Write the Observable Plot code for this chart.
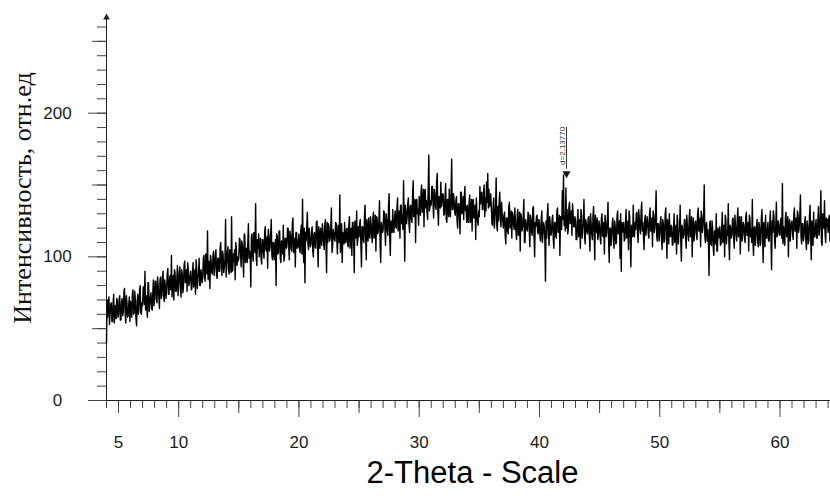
<!DOCTYPE html>
<html>
<head>
<meta charset="utf-8">
<script src="https://cdn.jsdelivr.net/npm/d3@7"></script>
<script src="https://cdn.jsdelivr.net/npm/@observablehq/plot@0.6"></script>
<style>
  html, body { margin: 0; padding: 0; background: #fff; }
  #chart svg { display: block; }
</style>
</head>
<body>
<div id="chart"></div>
<script>
// ---- Data (step 0.05° 2θ, starting at 4.00°) ----
const twoThetaStart = 4.0;
const twoThetaStep = 0.05;

const intensity04to14 = [
  40,70,58,69,72,53,61,67,68,55,55,68,74,54,62,66,57,71,70,58,
  60,70,73,56,56,68,71,59,62,76,78,61,54,73,68,58,59,67,72,55,
  69,62,58,74,77,60,61,76,70,57,52,69,74,60,64,77,80,61,60,68,
  66,79,79,67,90,63,73,65,58,82,82,62,67,72,75,64,63,75,84,66,
  71,83,83,70,68,86,79,72,64,84,86,71,73,85,90,73,69,84,78,71,
  78,88,92,74,74,86,87,77,101,72,80,87,70,91,89,76,76,85,94,73,
  81,89,93,77,72,91,88,75,79,94,97,82,84,91,76,96,91,80,83,87,
  90,77,78,89,96,79,82,91,74,98,92,78,85,88,99,80,80,91,88,82,
  86,99,101,86,83,102,95,88,118,84,89,97,78,101,97,89,88,100,104,87,
  92,101,105,87,85,99,99,90,90,107,110,92,87,104,101,89,93,98,126,86
];
const intensity14to24 = [
  95,103,107,91,88,105,103,89,128,90,91,102,97,105,84,110,106,94,100,97,
  99,113,112,101,93,111,108,99,86,116,115,96,101,106,96,110,123,99,104,100,
  79,114,116,101,97,117,111,103,137,99,94,112,106,116,100,110,113,99,95,112,
  112,103,99,117,121,105,104,114,92,119,115,104,107,116,126,101,98,110,110,98,
  104,112,80,116,114,102,103,118,118,99,96,111,109,102,122,97,100,113,113,106,
  107,120,120,108,98,118,115,106,104,123,127,103,109,113,93,117,117,106,112,107,
  116,105,103,118,122,102,140,108,96,120,82,117,111,121,131,109,105,120,114,107,
  109,118,121,104,100,116,117,107,106,124,125,109,93,121,114,106,120,111,108,123,
  118,110,105,122,126,108,89,124,110,123,121,111,113,120,134,103,107,119,117,112,
  111,124,123,112,102,122,119,110,143,103,108,123,96,117,116,109,124,110,110,119
];
const intensity24to34 = [
  120,109,107,122,128,106,113,120,101,124,124,111,89,125,118,113,132,108,112,121,
  114,123,126,109,93,121,121,112,110,129,136,114,98,126,119,111,127,116,113,128,
  123,115,110,127,131,113,116,129,104,128,127,116,118,125,139,108,96,124,121,117,
  119,132,131,120,108,130,126,118,115,135,144,115,101,125,124,117,133,118,117,127,
  132,121,120,134,141,118,125,132,113,136,136,123,129,119,153,125,97,136,131,123,
  128,137,141,123,117,135,136,126,124,143,153,128,131,140,110,139,140,130,133,122,
  142,133,129,145,150,131,134,147,121,146,147,134,139,131,126,148,171,132,135,139,
  136,149,149,137,127,147,144,135,133,152,158,132,122,142,141,134,152,135,138,144,
  143,129,130,142,151,126,124,140,139,128,147,131,128,145,168,133,133,144,140,131,
  129,139,142,125,120,137,137,128,116,145,145,130,131,142,126,141,149,132,135,124
];
const intensity34to44 = [
  136,126,124,138,143,124,129,140,118,139,140,127,127,136,112,141,131,125,122,132,
  128,149,137,143,145,133,133,145,150,128,141,132,152,138,158,134,147,135,139,144,
  134,123,122,136,141,120,127,134,155,122,118,135,125,139,145,127,121,138,130,125,
  120,129,131,115,109,127,127,118,116,135,138,120,122,132,113,131,129,122,119,134,
  125,117,112,129,133,115,118,131,104,130,128,118,121,127,140,110,110,126,123,119,
  118,131,130,119,107,129,126,117,115,134,135,114,100,124,121,128,129,117,116,126,
  124,113,111,126,132,110,117,124,121,112,83,125,113,129,137,117,108,128,122,115,
  117,126,129,112,106,124,124,115,113,132,134,117,119,129,101,128,127,119,146,126,
  157,122,128,118,148,120,133,116,119,135,138,123,124,132,115,137,130,121,121,128,
  125,112,112,124,133,114,118,126,106,133,129,113,120,123,140,115,109,126,123,117
];
const intensity44to54 = [
  116,127,128,114,104,130,123,116,112,128,135,115,98,129,120,117,127,112,115,125,
  122,113,109,127,130,115,114,124,102,129,125,114,117,126,138,111,96,120,120,108,
  115,123,127,111,106,125,121,109,110,128,132,116,118,125,99,130,90,124,117,121,
  124,111,112,123,133,113,117,125,105,132,128,112,93,122,121,114,136,115,114,124,
  119,130,131,117,110,133,127,119,116,131,138,118,124,114,105,126,129,115,120,128,
  125,116,113,130,134,118,118,127,107,132,129,117,120,129,146,114,111,123,123,111,
  116,124,128,112,105,126,123,110,112,129,134,117,99,126,121,109,130,115,114,122,
  121,108,109,120,130,110,114,122,102,129,125,109,117,119,136,111,97,122,119,113,
  115,126,126,113,106,129,122,115,111,127,133,114,118,128,100,122,127,111,116,124,
  125,116,112,130,134,118,118,127,107,132,129,117,121,129,150,114,110,123,124,111
];
const intensity54to64 = [
  119,111,87,123,125,109,108,125,120,106,101,118,116,109,130,104,104,120,113,117,
  121,108,109,120,131,110,114,122,100,129,126,109,118,115,137,111,98,122,120,113,
  115,126,127,113,106,129,122,115,111,127,134,114,117,128,102,122,128,111,116,124,
  122,113,110,127,131,115,115,124,104,129,127,114,119,110,140,111,101,120,121,108,
  114,122,126,110,107,124,121,108,110,127,133,115,96,124,119,107,129,113,113,120,
  124,111,111,123,132,113,91,125,117,132,128,112,106,122,138,114,115,125,122,116,
  115,126,127,113,151,109,121,115,108,127,131,114,117,128,100,122,126,111,118,124,
  125,116,112,130,134,118,118,127,106,132,130,117,121,129,143,114,109,123,123,111,
  115,123,128,111,105,125,122,109,111,128,136,116,98,125,120,108,131,114,114,121,
  126,113,113,125,135,115,119,127,146,110,108,130,124,120,139,116,110,127,121,126,
  117,126,129,111,112
];

// Peak annotation
const peakTheta = [42.25];
const peakLabel = ["d=2,13770"];

// Ticks and labels
const xTickLabels = [5, 10, 20, 30, 40, 50, 60];
const xMajorTicks = [10, 20, 30, 40, 50, 60];
const xMediumTicks = [5, 15, 25, 35, 45, 55];
const xMinorTicks = d3.range(4, 65, 1);
const yTickLabels = [0, 100, 200];
const yMajorTicks = [0, 100, 200];
const yMediumTicks = [50, 150, 250];
const yMinorTicks = d3.range(0, 261, 10);

const xTitle = "2-Theta - Scale";
const yTitle = "Интенсивность, отн.ед";

// ---- Build table ----
const counts = [].concat(intensity04to14, intensity14to24, intensity24to34,
                         intensity34to44, intensity44to54, intensity54to64);
const pattern = counts.map((v, i) => ({
  theta: +(twoThetaStart + i * twoThetaStep).toFixed(2),
  counts: v
}));
const peaks = peakTheta.map((t, i) => ({theta: t, label: peakLabel[i]}));

const axisColor = "#444";
const textColor = "#1a1a1a";
const sans = "'Liberation Sans', Arial, sans-serif";
const noLabel = () => "";

const chart = Plot.plot({
  width: 830,
  height: 499,
  marginLeft: 106,
  marginRight: 0,
  marginTop: 15,
  marginBottom: 99,
  style: {
    fontFamily: sans,
    fontSize: "17px",
    color: textColor,
    background: "#fff",
    overflow: "visible"
  },
  x: {domain: [4, 64.2]},
  y: {domain: [0, 268]},
  marks: [
    // x-axis ticks (minor / medium / major) and labels
    Plot.axisX({ticks: xMinorTicks, tickSize: 8, tickFormat: noLabel, stroke: axisColor, label: null}),
    Plot.axisX({ticks: xMediumTicks, tickSize: 13, tickFormat: noLabel, stroke: axisColor, label: null}),
    Plot.axisX({ticks: xMajorTicks, tickSize: 17, tickFormat: noLabel, stroke: axisColor, label: null}),
    Plot.axisX({ticks: xTickLabels, tickSize: 0, tickPadding: 35, label: null, fill: textColor}),
    // y-axis ticks and labels
    Plot.axisY({ticks: yMinorTicks, tickSize: 9, tickFormat: noLabel, stroke: axisColor, label: null}),
    Plot.axisY({ticks: yMediumTicks, tickSize: 14, tickFormat: noLabel, stroke: axisColor, label: null}),
    Plot.axisY({ticks: yMajorTicks, tickSize: 18, tickFormat: noLabel, stroke: axisColor, label: null}),
    Plot.axisY({ticks: yTickLabels, tickSize: 0, tickPadding: 49, textAnchor: "middle", label: null, fill: textColor}),
    // axis lines
    Plot.ruleY([0], {stroke: "#222"}),
    Plot.ruleX([4], {stroke: "#222"}),
    Plot.dot([0], {frameAnchor: "top-left", symbol: "triangle", r: 2.5, fill: "#222", stroke: null, dy: 2}),
    // diffractogram
    Plot.lineY(pattern, {x: "theta", y: "counts", stroke: "#000", strokeWidth: 1.4}),
    // peak marker
    Plot.ruleX(peaks, {x: "theta", y1: 161, y2: 190, stroke: "#333", strokeWidth: 1}),
    Plot.dot(peaks, {x: "theta", y: 158, symbol: "triangle", rotate: 180, r: 3, fill: "#111", stroke: null}),
    Plot.text(peaks, {x: "theta", y: 164, text: "label", rotate: -90, textAnchor: "start",
      lineAnchor: "middle", dx: -4, fontSize: 8, fill: "#333", fontFamily: sans}),
    // titles
    Plot.text([yTitle], {frameAnchor: "left", rotate: -90, dx: -84, dy: -10, textAnchor: "middle",
      lineAnchor: "middle", fontSize: 26, fill: "#111",
      fontFamily: "'Liberation Serif', 'Times New Roman', serif"}),
    Plot.text([xTitle], {frameAnchor: "bottom", dy: 60, dx: 4, lineAnchor: "top", fontSize: 31, fill: "#000"})
  ]
});
document.getElementById("chart").appendChild(chart);
</script>
</body>
</html>
